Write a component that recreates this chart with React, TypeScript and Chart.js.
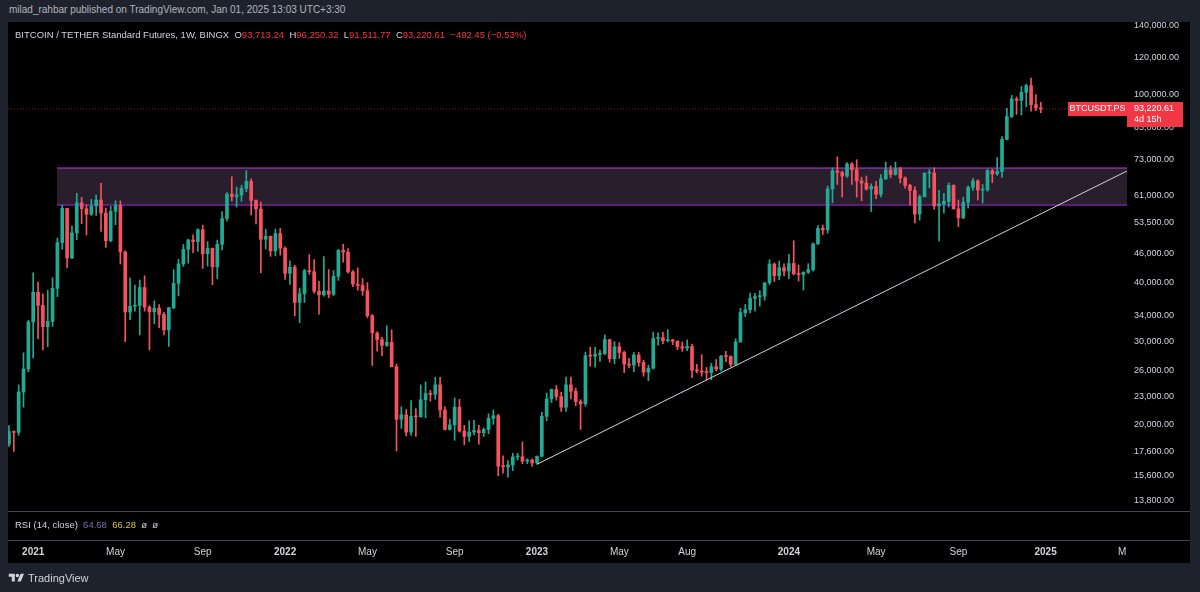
import React, { useEffect, useRef } from "react";
import { Chart, registerables } from "chart.js";

Chart.register(...registerables);

// Weekly candles, BTCUSDT.PS (BINGX), first week starting 2020-11-30, index = week number
const opens = [
  18180, 19360, 19270, 23470, 26250, 33000, 38150, 35800, 32260, 33100,
  38900, 48600, 57400, 45100, 50950, 59000, 57350, 55800, 58100, 59800,
  56150, 49050, 56600, 58250, 46450, 34650, 35650, 35800, 39050, 35500,
  34700, 35300, 34250, 31800, 35400, 39850, 43800, 47050, 49250, 48850,
  51750, 46050, 47250, 43200, 48200, 54650, 61550, 60850, 61300, 63300,
  65500, 59700, 57250, 49400, 50100, 46700, 50800, 47300, 41850, 43100,
  36300, 37900, 42400, 42200, 38350, 37700, 38400, 37800, 41250, 46800,
  46400, 42150, 39700, 39450, 38450, 34050, 31300, 30300, 29450, 29900,
  26550, 20550, 21000, 19300, 20850, 20800, 22600, 23300, 23200, 24300,
  21500, 19550, 19990, 21800, 19400, 18900, 19300, 19450, 19250, 19550,
  20650, 20900, 16350, 16300, 16450, 17100, 17120, 16750, 16850, 16600,
  17150, 20850, 22700, 23750, 22950, 21800, 24300, 23550, 22400, 22150,
  28000, 27950, 28200, 28300, 30300, 27600, 29250, 28450, 26900, 26750,
  28100, 27100, 25850, 26350, 30450, 30600, 30150, 30250, 30050, 29250,
  29050, 29300, 26100, 26000, 25850, 25800, 26550, 26250, 27950, 27900,
  26850, 29950, 34550, 35050, 37050, 37350, 37450, 39950, 43800, 41350,
  43000, 42300, 43900, 41750, 41600, 42050, 42600, 48300, 52100, 51700,
  63100, 68950, 68400, 67200, 71300, 69350, 65650, 64950, 63100, 63900,
  61500, 66300, 69250, 67750, 69650, 66600, 64250, 62700, 55850, 60800,
  68150, 68250, 58100, 58700, 59450, 64200, 57300, 54850, 59150, 63600,
  65650, 62800, 62850, 69000, 67950, 68750, 80400, 89850, 97900, 97200,
  101100, 104450, 95200, 93713.24,
];
const highs = [
  19920, 19420, 24300, 28400, 33300, 41950, 40100, 37850, 38500, 40950,
  49700, 58350, 57500, 52650, 61800, 60600, 58450, 60000, 61250, 64850,
  57500, 58000, 59600, 59600, 46700, 40900, 39500, 40500, 41350, 35750,
  36600, 35950, 34600, 35400, 42600, 44800, 48150, 49400, 50500, 52000,
  52900, 48850, 47350, 49200, 56550, 62000, 67000, 63700, 64300, 69000,
  66300, 59850, 59200, 51900, 50200, 51900, 52100, 47600, 44450, 43500,
  38950, 42650, 45850, 44750, 40300, 45400, 42600, 42400, 47000, 48200,
  47200, 42400, 42950, 40800, 40000, 34250, 31450, 30650, 32400, 31750,
  26900, 21850, 21550, 22500, 21650, 24300, 24650, 23650, 25200, 25200,
  21850, 20550, 22800, 22650, 19950, 20400, 20450, 19950, 19700, 21100,
  21500, 21050, 17200, 16800, 17400, 17400, 18400, 16950, 16950, 17200,
  21250, 23350, 23800, 24250, 23450, 25250, 25250, 23900, 22600, 28500,
  29200, 29200, 28800, 31000, 30350, 30000, 29850, 28650, 27650, 28450,
  28450, 27400, 26750, 31400, 31300, 31400, 31800, 30350, 30100, 29950,
  30250, 29650, 26850, 28150, 26450, 27000, 27500, 28050, 28600, 28000,
  30400, 35300, 35950, 38000, 37950, 38450, 40000, 44700, 44000, 44400,
  43800, 45900, 49050, 43550, 42200, 43850, 48550, 52800, 52950, 64000,
  70000, 73800, 68900, 71800, 71800, 72800, 66850, 67250, 64750, 65500,
  67700, 71950, 70650, 71950, 70200, 67000, 64600, 63800, 61300, 68350,
  69400, 70000, 62700, 61800, 65000, 64450, 59800, 60650, 64100, 66500,
  66000, 64500, 69400, 69500, 73600, 81500, 93450, 99600, 98850, 104000,
  105250, 108350, 99950, 96250.32,
];
const lows = [
  18000, 17570, 19000, 21800, 25900, 27700, 30420, 28800, 29250, 32300,
  37350, 47050, 43000, 44950, 49300, 53300, 50450, 55500, 55500, 51300,
  47500, 48800, 53000, 43800, 30000, 33400, 34800, 31000, 34800, 28800,
  32700, 32100, 31000, 29300, 35200, 37500, 43300, 43950, 46300, 46550,
  42850, 43350, 39600, 40750, 46900, 54000, 59500, 57800, 59400, 62300,
  55600, 53250, 42000, 47100, 45450, 45550, 45700, 40600, 39650, 34000,
  32900, 36300, 41650, 38000, 34300, 37450, 37150, 37550, 40450, 44200,
  41900, 39200, 38550, 37600, 33700, 26700, 28650, 28000, 29300, 26500,
  17600, 19650, 18950, 19000, 18900, 20750, 20700, 22450, 22650, 20750,
  19500, 19500, 18550, 19300, 18150, 18450, 19050, 18200, 18900, 19150,
  20050, 15600, 15800, 15500, 16000, 16850, 16550, 16550, 16350, 16500,
  17100, 20400, 22300, 22550, 21350, 21350, 22700, 21950, 19550, 21900,
  26600, 26500, 27250, 28150, 27150, 26950, 27650, 25800, 26400, 25900,
  26600, 25350, 24800, 26250, 29500, 29700, 29950, 29550, 28850, 28600,
  28700, 25150, 25750, 25350, 24900, 24900, 26000, 26000, 27200, 26550,
  26800, 29900, 33900, 34500, 34800, 35650, 36700, 39600, 40200, 40550,
  41300, 40750, 41500, 40300, 38550, 41800, 42300, 48150, 50550, 50900,
  59000, 64550, 60750, 66800, 64500, 60650, 59600, 62800, 56550, 60200,
  60750, 66100, 66650, 67500, 65000, 63350, 58400, 53500, 54250, 60650,
  63450, 57150, 49000, 56100, 57800, 57200, 52550, 54600, 57500, 62700,
  59800, 58950, 62400, 65100, 67450, 66800, 80200, 89400, 90800, 90500,
  94150, 92200, 92500, 91511.77,
];
const closes = [
  19360, 19270, 23470, 26250, 33000, 38150, 35800, 32260, 33100, 38900,
  48600, 57400, 45100, 50950, 59000, 57350, 55800, 58100, 59800, 56150,
  49050, 56600, 58250, 46450, 34650, 35650, 35800, 39050, 35500, 34700,
  35300, 34250, 31800, 35400, 39850, 43800, 47050, 49250, 48850, 51750,
  46050, 47250, 43200, 48200, 54650, 61550, 60850, 61300, 63300, 65500,
  59700, 57250, 49400, 50100, 46700, 50800, 47300, 41850, 43100, 36300,
  37900, 42400, 42200, 38350, 37700, 38400, 37800, 41250, 46800, 46400,
  42150, 39700, 39450, 38450, 34050, 31300, 30300, 29450, 29900, 26550,
  20550, 21000, 19300, 20850, 20800, 22600, 23300, 23200, 24300, 21500,
  19550, 19990, 21800, 19400, 18900, 19300, 19450, 19250, 19550, 20650,
  20900, 16350, 16300, 16450, 17100, 17120, 16750, 16850, 16600, 17150,
  20850, 22700, 23750, 22950, 21800, 24300, 23550, 22400, 22150, 28000,
  27950, 28200, 28300, 30300, 27600, 29250, 28450, 26900, 26750, 28100,
  27100, 25850, 26350, 30450, 30600, 30150, 30250, 30050, 29250, 29050,
  29300, 26100, 26000, 25850, 25800, 26550, 26250, 27950, 27900, 26850,
  29950, 34550, 35050, 37050, 37350, 37450, 39950, 43800, 41350, 43000,
  42300, 43900, 41750, 41600, 42050, 42600, 48300, 52100, 51700, 63100,
  68950, 68400, 67200, 71300, 69350, 65650, 64950, 63100, 63900, 61500,
  66300, 69250, 67750, 69650, 66600, 64250, 62700, 55850, 60800, 68150,
  68250, 58100, 58700, 59450, 64200, 57300, 54850, 59150, 63600, 65650,
  62800, 62850, 69000, 67950, 68750, 80400, 89850, 97900, 97200, 101100,
  104450, 95200, 93700, 93220.61,
];

// Axis ticks
const xTickWeeks = [5, 22, 40, 57, 74, 92, 109, 126, 140, 161, 179, 196, 214, 229.8];
const xTickLabels = ["2021", "May", "Sep", "2022", "May", "Sep", "2023", "May", "Aug", "2024", "May", "Sep", "2025", "M"];
const yTickValues = [13800, 15600, 17600, 20000, 23000, 26000, 30000, 34000, 40000, 46000, 53500, 61000, 73000, 85000, 100000, 120000, 140000];

// Drawings
const zoneWeeks = [9.9, 230.8];
const zoneTop = [69900, 69900];
const zoneBottom = [58400, 58400];
const trendWeeks = [109, 230.8];
const trendPrices = [16500, 68900];
const lastPrice = 93220.61;

const UP = "#22ab94";
const DOWN = "#f7525f";
const FONT = '"Liberation Sans", Arial, sans-serif';

const priceLabelPlugin = {
  id: "priceLabel",
  afterDraw(chart: any) {
    const { ctx, chartArea, scales } = chart;
    const y = scales.y.getPixelForValue(lastPrice);
    const r = chartArea.right;
    ctx.save();
    ctx.fillStyle = "#f23645";
    ctx.fillRect(r - 59, Math.round(y) - 7, 59, 14);
    ctx.fillRect(r, Math.round(y) - 7, 56, 25);
    ctx.fillStyle = "#ffffff";
    ctx.font = `9px ${FONT}`;
    ctx.textBaseline = "middle";
    ctx.textAlign = "center";
    ctx.fillText("BTCUSDT.PS", r - 29.5, y);
    ctx.textAlign = "left";
    ctx.fillText(lastPrice.toLocaleString("en-US", { minimumFractionDigits: 2 }), r + 7, y);
    ctx.fillText("4d 15h", r + 7, y + 11);
    ctx.restore();
  },
};

export default function App() {
  const ref = useRef<HTMLCanvasElement>(null);

  useEffect(() => {
    const n = closes.length;
    const colors = closes.map((c, i) => (c >= opens[i] ? UP : DOWN));
    const bodies = closes.map((c, i) => ({ x: i, y: [Math.min(opens[i], c), Math.max(opens[i], c)] }));
    const wicks = closes.map((_, i) => ({ x: i, y: [lows[i], highs[i]] }));

    const chart = new Chart(ref.current as HTMLCanvasElement, {
      type: "bar",
      data: {
        datasets: [
          {
            type: "line",
            data: zoneWeeks.map((w, i) => ({ x: w, y: zoneTop[i] })),
            borderColor: "#7b1fa2",
            borderWidth: 1.5,
            pointRadius: 0,
            order: 10,
          } as any,
          {
            type: "line",
            data: zoneWeeks.map((w, i) => ({ x: w, y: zoneBottom[i] })),
            borderColor: "#7b1fa2",
            borderWidth: 1.5,
            pointRadius: 0,
            fill: "-1",
            backgroundColor: "rgba(200,150,220,0.2)",
            order: 9,
          } as any,
          {
            type: "line",
            data: [{ x: -0.2, y: lastPrice }, { x: 230.8, y: lastPrice }],
            borderColor: "rgba(242,54,69,0.55)",
            borderWidth: 1,
            borderDash: [1, 2],
            pointRadius: 0,
            order: 8,
          } as any,
          {
            type: "bar",
            data: wicks,
            backgroundColor: colors,
            barThickness: 1,
            grouped: false,
            borderWidth: 0,
            order: 6,
          } as any,
          {
            type: "bar",
            data: bodies,
            backgroundColor: colors,
            barThickness: 3,
            minBarLength: 1,
            grouped: false,
            borderWidth: 0,
            order: 5,
          } as any,
          {
            type: "line",
            data: trendWeeks.map((w, i) => ({ x: w, y: trendPrices[i] })),
            borderColor: "#d1d4dc",
            borderWidth: 1,
            pointRadius: 0,
            order: 1,
          } as any,
        ],
      },
      options: {
        animation: false,
        responsive: false,
        devicePixelRatio: 1,
        events: [],
        layout: { padding: 0 },
        plugins: { legend: { display: false }, tooltip: { enabled: false } },
        scales: {
          x: {
            type: "linear",
            min: -0.2,
            max: 230.8,
            offset: false,
            grid: { display: false, drawTicks: false },
            border: { display: false },
            ticks: {
              color: "#d1d4dc",
              padding: 36,
              autoSkip: false,
              maxRotation: 0,
              font: (ctx: any) => ({
                family: FONT,
                size: 10,
                weight: /^\d{4}$/.test(xTickLabels[ctx.index] || "") ? "bold" : "normal",
              }),
              callback: (_v: any, i: number) => xTickLabels[i],
            },
            afterBuildTicks: (scale: any) => {
              scale.ticks = xTickWeeks.map((v) => ({ value: v }));
            },
            afterFit: (scale: any) => {
              scale.height = 53;
              scale.paddingLeft = 0;
              scale.paddingRight = 0;
            },
          },
          y: {
            type: "logarithmic",
            position: "right",
            min: 13205,
            max: 142410,
            grid: { display: false, drawTicks: false },
            border: { display: false },
            ticks: {
              color: "#d1d4dc",
              padding: 7,
              autoSkip: false,
              font: { family: FONT, size: 9 },
              callback: (v: any) =>
                Number(v).toLocaleString("en-US", { minimumFractionDigits: 2, maximumFractionDigits: 2 }),
            },
            afterBuildTicks: (scale: any) => {
              scale.ticks = yTickValues.map((v) => ({ value: v }));
            },
            afterFit: (scale: any) => {
              scale.width = 63;
              scale.paddingTop = 0;
              scale.paddingBottom = 0;
            },
          },
        },
      },
      plugins: [priceLabelPlugin],
    } as any);
    return () => chart.destroy();
  }, []);

  const red = "#f23645";
  const txt = "#d1d4dc";

  return (
    <div
      style={{
        position: "absolute",
        left: 0,
        top: 0,
        width: 1200,
        height: 592,
        background: "#1e222d",
        overflow: "hidden",
        fontFamily: FONT,
      }}
    >
      <div style={{ position: "absolute", left: 9, top: 4, fontSize: 10, color: "#b2b5be", whiteSpace: "nowrap" }}>
        milad_rahbar published on TradingView.com, Jan 01, 2025 13:03 UTC+3:30
      </div>
      <div style={{ position: "absolute", left: 8, top: 22, width: 1182, height: 541, background: "#000" }} />
      <canvas
        ref={ref}
        width={1182}
        height={541}
        style={{ position: "absolute", left: 8, top: 22, width: 1182, height: 541, display: "block" }}
      />
      <div style={{ position: "absolute", left: 15, top: 29, fontSize: 9.5, color: txt, whiteSpace: "nowrap" }}>
        BITCOIN / TETHER Standard Futures, 1W, BINGX&nbsp;&nbsp;O<span style={{ color: red }}>93,713.24</span>
        &nbsp;&nbsp;H<span style={{ color: red }}>96,250.32</span>&nbsp;&nbsp;L
        <span style={{ color: red }}>91,511.77</span>&nbsp;&nbsp;C<span style={{ color: red }}>93,220.61</span>
        &nbsp;&nbsp;<span style={{ color: red }}>−492.45 (−0.53%)</span>
      </div>
      <div style={{ position: "absolute", left: 8, top: 511, width: 1182, height: 1, background: "#434651" }} />
      <div style={{ position: "absolute", left: 8, top: 540, width: 1182, height: 1, background: "#434651" }} />
      <div style={{ position: "absolute", left: 15, top: 519, fontSize: 9.5, color: txt, whiteSpace: "nowrap" }}>
        RSI (14, close)&nbsp;&nbsp;<span style={{ color: "#7e6fb0" }}>64.68</span>&nbsp;&nbsp;
        <span style={{ color: "#d4c24a" }}>66.28</span>&nbsp;&nbsp;ø&nbsp;&nbsp;ø
      </div>
      <div style={{ position: "absolute", left: 8, top: 572, display: "flex", alignItems: "center", color: txt }}>
        <svg width="17" height="12" viewBox="0 0 36 28">
          <path d="M14 22H7V11H0V4h14v18zM28 22h-8l7.5-18h8L28 22z" fill={txt} />
          <circle cx="20" cy="8" r="4" fill={txt} />
        </svg>
        <span style={{ marginLeft: 3, fontSize: 11 }}>TradingView</span>
      </div>
    </div>
  );
}
